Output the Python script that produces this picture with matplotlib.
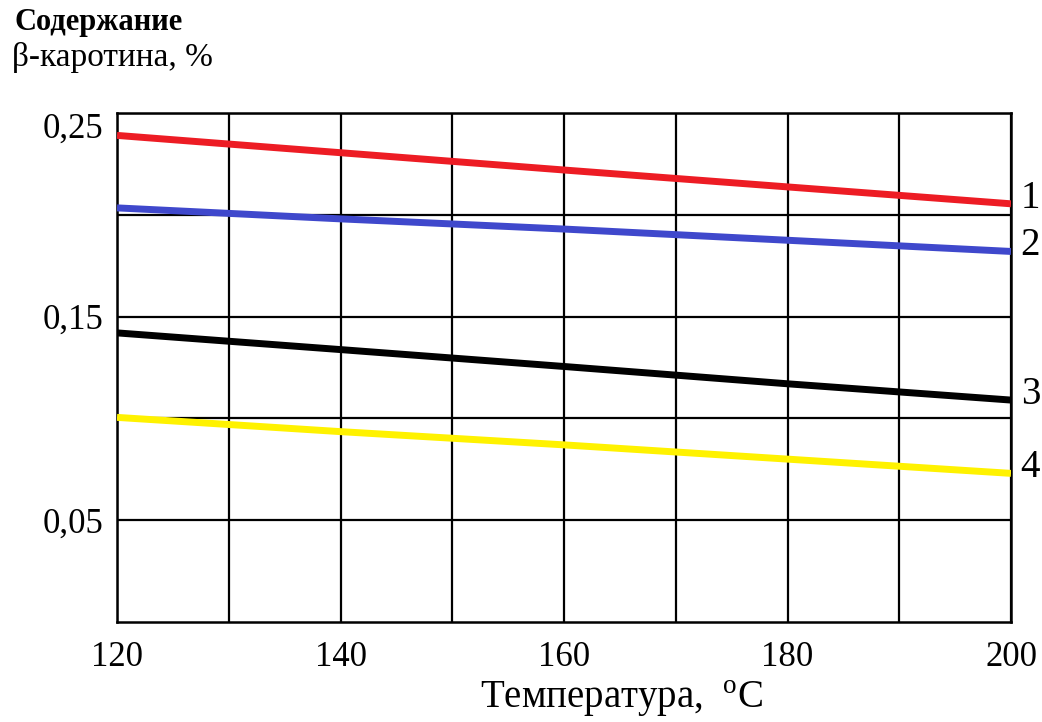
import matplotlib.pyplot as plt
import matplotlib.transforms as mtransforms

# data
temps = [120, 140, 160, 180, 200]
curve1 = [0.239, 0.2305, 0.222, 0.2137, 0.2054]
curve2 = [0.2034, 0.198, 0.193, 0.1875, 0.182]
curve3 = [0.142, 0.1338, 0.1255, 0.117, 0.109]
curve4 = [0.1005, 0.0935, 0.087, 0.080, 0.073]
names = ['1', '2', '3', '4']
colors = ['#ED1C24', '#3F48CC', '#000000', '#FFF200']

plt.rcParams['font.family'] = ['Liberation Serif', 'DejaVu Serif']

fig = plt.figure(figsize=(10.42, 7.22), dpi=100)
ax = fig.add_axes([117/1042, 1-622/722, (1011-117)/1042, (622-113)/722])

for ys, c, n in zip([curve1, curve2, curve3, curve4], colors, names):
    ax.plot(temps, ys, color=c, lw=5, solid_capstyle='butt', zorder=3)
    ax.annotate(n, xy=(temps[-1], ys[-1]), xytext=(7, 4), textcoords='offset points',
                ha='left', va='center', fontsize=28, annotation_clip=False)

ax.set_xlim(120, 200)
ax.set_ylim(0, 0.25)
xt = list(range(120, 201, 10))
ax.set_xticks(xt)
ax.set_xticklabels([str(v) if v % 20 == 0 else '' for v in xt])
yt = [0.05, 0.10, 0.15, 0.20, 0.25]
ax.set_yticks(yt)
ax.set_yticklabels(['0,05', '', '0,15', '', '0,25'])
ax.tick_params(length=0, labelsize=25)
ax.tick_params(axis='x', pad=14)
ax.tick_params(axis='y', pad=10)
ax.grid(True, color='black', lw=1.6)
for s in ax.spines.values():
    s.set_linewidth(1.8)

# the top label sits a bit lower than its grid line
top_lab = ax.get_yticklabels()[-1]
top_lab.set_transform(top_lab.get_transform() +
                      mtransforms.ScaledTranslation(0, -12/100, fig.dpi_scale_trans))

fig.text(15/1042, 1-8/722, 'Содержание', fontsize=22, fontweight='bold', va='top', ha='left')
fig.text(12/1042, 1-42/722, 'β-каротина, %', fontsize=24, va='top', ha='left')
fig.text(622/1042, 1-719/722, 'Температура,  $^{\\mathregular{o}}$C', fontsize=28,
         ha='center', va='bottom')

fig.savefig('out.png', dpi=100)
